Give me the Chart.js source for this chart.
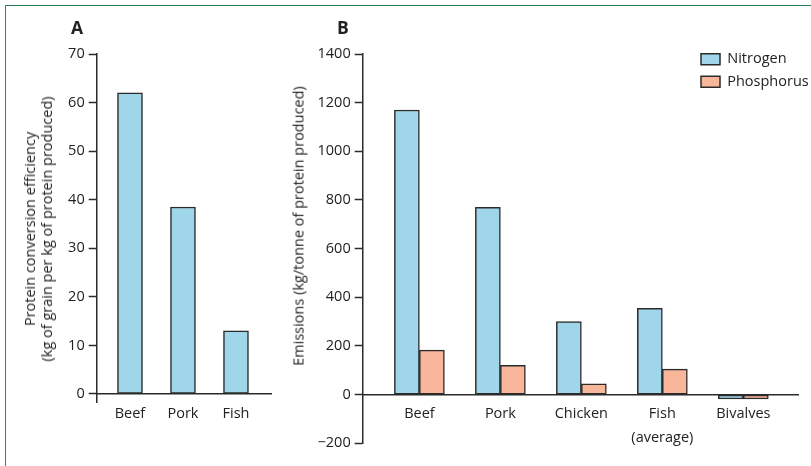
<!DOCTYPE html>
<html>
<head>
<meta charset="utf-8">
<script src="https://cdn.jsdelivr.net/npm/chart.js@4/dist/chart.umd.min.js"></script>
<style>
  body { margin: 0; background: #fff; font-family: "Open Sans", sans-serif; color: #222; }
  #page { position: relative; width: 811px; height: 466px; overflow: hidden; }
  #frame { position: absolute; left: 5px; top: 5px; width: 820px; height: 480px;
           border-top: 1.5px solid #27804f; border-left: 1.5px solid #2e8b57; }
  .panel { position: absolute; font-weight: bold; font-size: 17.5px; }
  .ytitle { position: absolute; white-space: nowrap; text-align: center; font-size: 14.5px;
            line-height: 17px; transform: translate(-50%, -50%) rotate(-90deg); }
  #cvA { position: absolute; left: 0; top: 0; }
  #cvB { position: absolute; left: 285px; top: 0; }
</style>
</head>
<body>
<div id="page">
  <div id="frame"></div>
  <canvas id="cvA" width="290" height="466"></canvas>
  <canvas id="cvB" width="526" height="466"></canvas>
  <div class="panel" style="left:71px;top:15px">A</div>
  <div class="panel" style="left:337px;top:15px">B</div>
  <div class="ytitle" style="left:38px;top:229px">Protein conversion efficiency<br>(kg of grain per kg of protein produced)</div>
  <div class="ytitle" style="left:298px;top:226px">Emissions (kg/tonne of protein produced)</div>
</div>
<script>
// panel A: grain needed per kg of protein
const categoriesA = ['Beef', 'Pork', 'Fish'];
const conversionA = [62, 38.5, 13];
const yTicksA = [0, 10, 20, 30, 40, 50, 60, 70];

// panel B: emissions per tonne of protein
const categoriesB = ['Beef', 'Pork', 'Chicken', ['Fish', '(average)'], 'Bivalves'];
const nitrogenB = [1170, 770, 300, 355, -18];
const phosphorusB = [183, 120, 44, 105, -18];
const yTicksB = [-200, 0, 200, 400, 600, 800, 1000, 1200, 1400];

const BLUE = '#9fd6e9';
const ORANGE = '#f9b69a';
const INK = '#2b2b2b';
const FONT = { family: '"Open Sans", sans-serif', size: 14.5 };

Chart.defaults.animation = false;
Chart.defaults.color = '#222';
Chart.defaults.font = FONT;

// move the legend to a fixed spot inside the plot
const legendSpot = {
  id: 'legendSpot',
  afterLayout(chart, args, opts) {
    const lg = chart.legend;
    if (!lg || opts.x === undefined) return;
    const w = lg.width, h = lg.height;
    lg.left = opts.x; lg.top = opts.y;
    lg.right = opts.x + w; lg.bottom = opts.y + h;
  }
};

function yScale(min, max, ticks, width) {
  return {
    min, max,
    afterBuildTicks: s => { s.ticks = ticks.map(v => ({ value: v })); },
    afterFit: s => { s.width = width; },
    grid: { drawOnChartArea: false, drawTicks: true, tickLength: 8, tickColor: INK, tickWidth: 1.5 },
    border: { display: true, color: INK, width: 1.5 },
    ticks: {
      padding: 4, color: '#222', font: FONT,
      callback: v => v < 0 ? '\u2212' + Math.abs(v) : String(v)
    }
  };
}

function xScale(min, max, labels) {
  return {
    type: 'linear', min, max, offset: false,
    position: { y: 0 },
    afterBuildTicks: s => { s.ticks = labels.map((_, i) => ({ value: i })); },
    grid: { display: false, drawTicks: false, offset: false },
    border: { display: true, color: INK, width: 1.5 },
    ticks: {
      padding: 8, maxRotation: 0, autoSkip: false, color: '#222',
      font: { ...FONT, lineHeight: 1.6 },
      callback: v => labels[v]
    }
  };
}

function barSet(label, data, color) {
  return {
    label, data, backgroundColor: color, borderColor: INK, borderWidth: 1.5,
    borderSkipped: false, barThickness: 25
  };
}

new Chart(document.getElementById('cvA'), {
  type: 'bar',
  data: {
    labels: categoriesA.map((_, i) => i),
    datasets: [barSet('Protein conversion efficiency', conversionA, BLUE)]
  },
  options: {
    responsive: false,
    layout: { padding: { left: 0, top: 54, right: 18.3, bottom: 64 } },
    plugins: { legend: { display: false }, tooltip: { enabled: false } },
    scales: {
      x: xScale(-0.628, 2.674, categoriesA),
      y: yScale(-1.65, 70, yTicksA, 96.7)
    }
  }
});

new Chart(document.getElementById('cvB'), {
  type: 'bar',
  data: {
    labels: categoriesB.map((_, i) => i),
    datasets: [
      barSet('Nitrogen', nitrogenB, BLUE),
      barSet('Phosphorus', phosphorusB, ORANGE)
    ]
  },
  options: {
    responsive: false,
    layout: { padding: { left: 0, top: 54, right: 13, bottom: 22.7 } },
    plugins: {
      tooltip: { enabled: false },
      legend: {
        position: 'chartArea', align: 'start',
        labels: { boxWidth: 19, boxHeight: 11, padding: 8, color: '#222', font: FONT }
      },
      legendSpot: { x: 408, y: 44 }
    },
    scales: {
      x: xScale(-0.70, 4.675, categoriesB),
      y: yScale(-200, 1400, yTicksB, 77.7)
    }
  },
  plugins: [legendSpot]
});
</script>
</body>
</html>
